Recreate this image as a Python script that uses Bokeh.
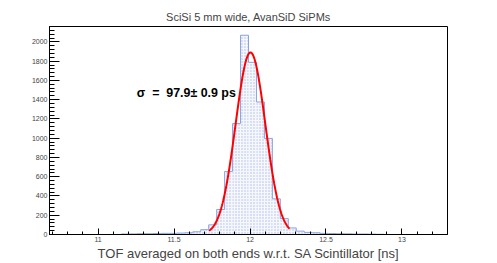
import numpy as np
from bokeh.plotting import figure
from bokeh.models import SingleIntervalTicker, NumeralTickFormatter, Label, ColumnDataSource
from bokeh.embed import file_html
from bokeh.resources import INLINE

title_text = "SciSi 5 mm wide, AvanSiD SiPMs"
x_label = "TOF averaged on both ends w.r.t. SA Scintillator [ns]"
sigma_text = "σ\u00a0\u00a0=\u00a0\u00a097.9±\u00a00.9 ps"

hist_lo = 10.68
hist_hi = 13.3
counts = [0, 0, 0, 0, 0, 0, 0, 0, 0, 5,
          6, 8, 8, 10, 12, 12, 15, 18, 28, 50,
          100, 260, 655, 1152, 2069, 1788, 1376, 998, 370, 165,
          68, 35, 22, 18, 12, 10, 8, 7, 5, 5,
          4, 2, 0, 0, 0, 0, 0, 0, 0, 0]

fit_const = 1890.0
fit_mean = 12.003
fit_sigma = 0.0979
fit_lo = 11.73
fit_hi = 12.26

FONT = "Liberation Sans"

edges = np.linspace(hist_lo, hist_hi, len(counts) + 1)
src = ColumnDataSource(dict(left=edges[:-1], right=edges[1:], top=counts, bottom=[0] * len(counts)))

step_x = [edges[0]]
step_y = [0]
for i, c in enumerate(counts):
    step_x += [edges[i], edges[i + 1]]
    step_y += [c, c]
step_x.append(edges[-1])
step_y.append(0)

fx = np.linspace(fit_lo, fit_hi, 200)
fy = fit_const * np.exp(-0.5 * ((fx - fit_mean) / fit_sigma) ** 2)

p = figure(width=497, height=263, x_range=(hist_lo, hist_hi), y_range=(0, 2160),
           output_backend="svg", toolbar_location=None, title=title_text,
           min_border_left=49, min_border_right=50, min_border_top=26, min_border_bottom=26)
p.background_fill_color = "white"
p.border_fill_color = "white"
p.outline_line_color = "black"
p.outline_line_width = 1
p.xgrid.visible = False
p.ygrid.visible = False

p.title.text_font = FONT
p.title.text_font_size = "11px"
p.title.text_font_style = "normal"
p.title.align = "center"
p.title.offset = 4
p.title.standoff = 8

p.quad(left="left", right="right", top="top", bottom="bottom", source=src,
       fill_color="#f5f7fd", line_color=None,
       hatch_pattern="dot", hatch_color="#a9bbe8", hatch_scale=3, hatch_weight=1)
p.line(step_x, step_y, line_color="#8aa2e0", line_width=1)
p.line(fx, fy, line_color="red", line_width=2)

p.add_layout(Label(x=11.255, y=1471, text=sigma_text, text_font=FONT, text_font_size="12.4px",
                   text_font_style="bold", text_baseline="middle", text_align="left",
                   text_color="black"))

xa = p.xaxis[0]
xa.ticker = SingleIntervalTicker(interval=0.5, num_minor_ticks=5)
xa.formatter = NumeralTickFormatter(format="0.[0]")
xa.major_tick_in = 6
xa.major_tick_out = 0
xa.minor_tick_in = 3
xa.minor_tick_out = 0
xa.major_label_standoff = 2
xa.major_label_text_font = FONT
xa.major_label_text_font_size = "7px"
xa.axis_label = x_label
xa.axis_label_text_font = FONT
xa.axis_label_text_font_size = "13px"
xa.axis_label_text_font_style = "normal"
xa.axis_label_standoff = 1
xa.axis_line_color = "black"

ya = p.yaxis[0]
ya.ticker = SingleIntervalTicker(interval=200, num_minor_ticks=5)
ya.major_tick_in = 10
ya.major_tick_out = 0
ya.minor_tick_in = 5
ya.minor_tick_out = 0
ya.major_label_standoff = 2
ya.major_label_text_font = FONT
ya.major_label_text_font_size = "7px"
ya.axis_line_color = "black"

open("out.html", "w").write(file_html(p, INLINE))
